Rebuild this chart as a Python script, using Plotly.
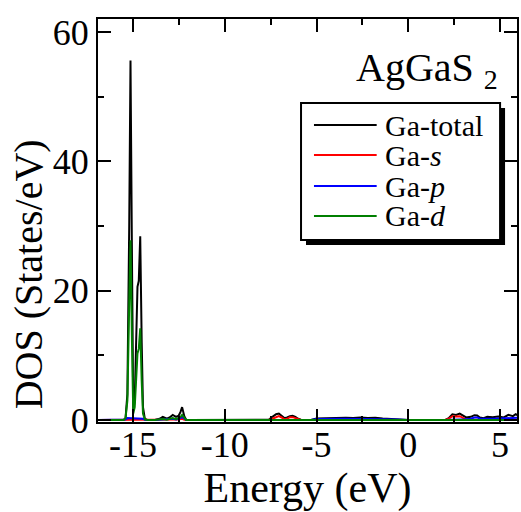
import plotly.graph_objects as go

# ---------------- data ----------------
energy = [-17.0, -15.5, -15.4, -15.3, -15.2, -15.13, -15.05, -14.98, -14.9, -14.82,
          -14.75, -14.68, -14.6, -14.52, -14.45, -14.35, -14.2, -13.8, -13.55, -13.37,
          -13.15, -13.0, -12.83, -12.65, -12.5, -12.4, -12.32, -12.2, -12.1, -11.9,
          -8.0, -7.6, -7.4, -7.2, -7.05, -6.9, -6.75, -6.6, -6.45, -6.3,
          -6.15, -6.0, -5.85, -5.6, -5.3, -5.0, -4.6, -4.2, -3.8, -3.4,
          -3.0, -2.6, -2.2, -1.8, -1.4, -1.0, -0.6, -0.3, 0.0, 2.0,
          2.2, 2.4, 2.6, 2.8, 3.0, 3.15, 3.4, 3.6, 3.75, 3.9,
          4.1, 4.3, 4.6, 4.9, 5.2, 5.45, 5.7, 5.85, 6.0]

ga_total = [0, 0, 0.3, 4, 30, 55.6, 25, 1.5, 3, 15,
            20.6, 21.5, 28.4, 12, 2, 0.2, 0, 0, 0.2, 0.5,
            0.2, 0.4, 0.8, 0.5, 0.7, 1.3, 2.0, 0.6, 0.05, 0,
            0, 0.05, 0.5, 0.9, 1.0, 0.7, 0.3, 0.4, 0.6, 0.65,
            0.5, 0.2, 0.05, 0, 0, 0.25, 0.3, 0.25, 0.3, 0.35,
            0.3, 0.4, 0.3, 0.35, 0.25, 0.2, 0.15, 0.05, 0, 0,
            0.3, 0.9, 0.8, 1.0, 0.6, 0.4, 0.5, 0.75, 0.7, 0.4,
            0.3, 0.5, 0.45, 0.55, 0.4, 0.8, 0.6, 0.9, 0.7]

ga_s = [0, 0, 0.02, 0.05, 0.05, 0.05, 0.05, 0.05, 0.05, 0.05,
        0.05, 0.05, 0.05, 0.05, 0.02, 0, 0, 0, 0, 0.05,
        0, 0.05, 0.1, 0.05, 0.1, 0.15, 0.2, 0.05, 0, 0,
        0, 0.02, 0.2, 0.5, 0.6, 0.4, 0.1, 0.2, 0.45, 0.45,
        0.3, 0.1, 0.02, 0, 0, 0.02, 0.02, 0.02, 0.02, 0.02,
        0.02, 0.02, 0.02, 0.02, 0.02, 0.02, 0.02, 0.01, 0, 0,
        0.2, 0.6, 0.55, 0.6, 0.3, 0.1, 0.05, 0.05, 0.05, 0.05,
        0.05, 0.05, 0.05, 0.05, 0.05, 0.05, 0.05, 0.05, 0.05]

ga_p = [0, 0, 0.1, 0.3, 0.3, 0.3, 0.3, 0.3, 0.3, 0.3,
        0.3, 0.3, 0.3, 0.3, 0.2, 0.05, 0, 0, 0.05, 0.1,
        0.05, 0.1, 0.2, 0.1, 0.2, 0.35, 0.5, 0.2, 0.02, 0,
        0, 0.02, 0.05, 0.05, 0.05, 0.05, 0.05, 0.05, 0.05, 0.05,
        0.05, 0.05, 0.02, 0, 0, 0.15, 0.2, 0.15, 0.2, 0.2,
        0.2, 0.2, 0.15, 0.2, 0.15, 0.1, 0.1, 0.05, 0, 0,
        0.05, 0.1, 0.1, 0.1, 0.1, 0.1, 0.2, 0.4, 0.4, 0.2,
        0.15, 0.2, 0.2, 0.25, 0.2, 0.35, 0.3, 0.4, 0.35]

ga_d = [0, 0, 0.3, 3, 18, 27.8, 12, 1, 2, 8,
        10.3, 11, 14.2, 6, 1, 0.1, 0, 0, 0.05, 0.15,
        0.05, 0.15, 0.3, 0.15, 0.3, 0.5, 0.8, 0.3, 0.02, 0,
        0, 0.02, 0.02, 0.02, 0.02, 0.02, 0.02, 0.02, 0.02, 0.02,
        0.02, 0.02, 0.02, 0, 0, 0.02, 0.02, 0.02, 0.02, 0.02,
        0.02, 0.02, 0.02, 0.02, 0.02, 0.02, 0.02, 0.02, 0, 0,
        0.02, 0.02, 0.02, 0.02, 0.02, 0.02, 0.02, 0.02, 0.02, 0.02,
        0.02, 0.02, 0.02, 0.02, 0.02, 0.02, 0.02, 0.02, 0.02]

series_names = ["Ga-total", "Ga-<i>s</i>", "Ga-<i>p</i>", "Ga-<i>d</i>"]
series_values = [ga_total, ga_s, ga_p, ga_d]
series_colors = ["#000000", "#ff0000", "#0000ff", "#007f00"]

x_ticks = [-15, -10, -5, 0, 5]
y_ticks = [0, 20, 40, 60]

# ---------------- layout geometry (pixels) ----------------
W, H = 521, 512
ML, MR, MT, MB = 98, 2, 19, 90
PW, PH = W - ML - MR, H - MT - MB

def px(x):
    return (x - ML) / PW

def py(y):
    return (H - MB - y) / PH

FONT = "Liberation Serif"

fig = go.Figure()
for name, vals, col in zip(series_names, series_values, series_colors):
    fig.add_trace(go.Scatter(x=energy, y=vals, mode="lines", name=name,
                             line=dict(color=col, width=2), showlegend=False))

axis_common = dict(showline=True, linecolor="black", linewidth=2, mirror="ticks",
                   ticks="inside", tickcolor="black", tickwidth=2, ticklen=13,
                   showgrid=False, zeroline=False,
                   tickfont=dict(family=FONT, size=36, color="black"))

fig.update_xaxes(range=[-16.9, 5.92], tickvals=x_ticks,
                 ticktext=[str(v) for v in x_ticks],
                 ticklabelstandoff=-10,
                 minor=dict(tickvals=[-12.5, -7.5, -2.5, 2.5], ticks="inside", ticklen=6,
                            tickwidth=2, tickcolor="black", showgrid=False),
                 title=dict(text="Energy (eV)", font=dict(family=FONT, size=42, color="black"),
                            standoff=2),
                 **axis_common)
fig.update_yaxes(range=[-0.3, 62], tickvals=y_ticks,
                 ticktext=[str(v) for v in y_ticks],
                 minor=dict(tickvals=[10, 30, 50], ticks="inside", ticklen=6,
                            tickwidth=2, tickcolor="black", showgrid=False),
                 **axis_common)

# ---------------- manual legend with drop shadow ----------------
bx0, by0, bx1, by1 = 302, 103, 502, 240
shapes = [
    dict(type="rect", xref="paper", yref="paper",
         x0=px(bx0 + 5), x1=px(bx1 + 5), y0=py(by1 + 5), y1=py(by0 + 5),
         fillcolor="black", line=dict(width=0), layer="above"),
    dict(type="rect", xref="paper", yref="paper",
         x0=px(bx0), x1=px(bx1), y0=py(by1), y1=py(by0),
         fillcolor="white", line=dict(color="black", width=2), layer="above"),
]
annotations = []
row_y = [125, 155, 186, 216]
for name, col, ry in zip(series_names, series_colors, row_y):
    shapes.append(dict(type="line", xref="paper", yref="paper",
                       x0=px(315), x1=px(378), y0=py(ry), y1=py(ry),
                       line=dict(color=col, width=2), layer="above"))
    annotations.append(dict(xref="paper", yref="paper", x=px(384), y=py(ry),
                            xanchor="left", yanchor="middle", showarrow=False,
                            text=name, font=dict(family=FONT, size=30, color="black")))

annotations.append(dict(xref="paper", yref="paper", x=px(502), y=py(70),
                        xanchor="right", yanchor="middle", showarrow=False,
                        text="AgGaS <sub>2</sub>",
                        font=dict(family=FONT, size=40, color="black")))

# y-axis title (placed lower than centre, as in the reference)
annotations.append(dict(xref="paper", yref="paper", x=px(28), y=py(274),
                        xanchor="center", yanchor="middle", showarrow=False,
                        textangle=-90, text="DOS (States/eV)",
                        font=dict(family=FONT, size=40, color="black")))

fig.update_layout(width=W, height=H, margin=dict(l=ML, r=MR, t=MT, b=MB),
                  paper_bgcolor="white", plot_bgcolor="white",
                  font=dict(family=FONT, color="black"),
                  shapes=shapes, annotations=annotations, showlegend=False)

fig.write_html("out.html")
